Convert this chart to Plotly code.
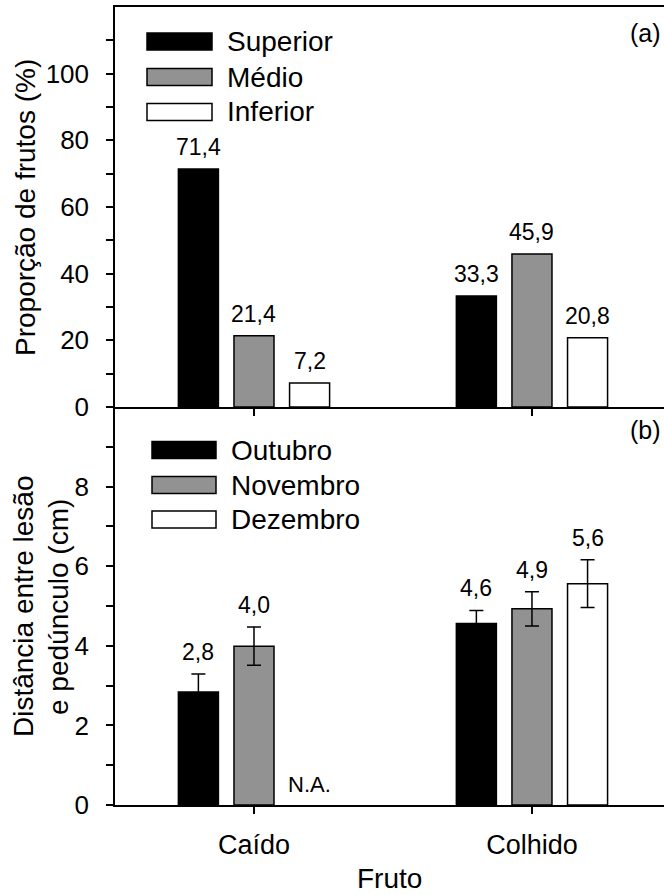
import plotly.graph_objects as go

# ---------------- data ----------------
categories = ["Caído", "Colhido"]

top_names = ["Superior", "Médio", "Inferior"]
superior = [71.4, 33.3]
medio = [21.4, 45.9]
inferior = [7.2, 20.8]

bottom_names = ["Outubro", "Novembro", "Dezembro"]
outubro = [2.84, 4.56]
outubro_err = [0.45, 0.33]
novembro = [3.99, 4.93]
novembro_err = [0.48, 0.43]
dezembro = [None, 5.56]
dezembro_err = [None, 0.60]

top_ticks = [0, 20, 40, 60, 80, 100]
top_minor = [10, 30, 50, 70, 90, 110]
bottom_ticks = [0, 2, 4, 6, 8]
bottom_minor = [1, 3, 5, 7, 9]

# ---------------- style ----------------
FONT = "Liberation Sans, Arial, Helvetica, sans-serif"
fills = ["#000000", "#929292", "#ffffff"]
W, H = 664, 895
L, R, T, B = 115, 0, 7, 90
plot_w = W - L - R
plot_h = H - T - B
split_px = 407  # pixel y of boundary between panels
split = (H - B - split_px) / plot_h

offsets = [-0.2, 0.0, 0.2]
bar_w = 0.144


def px_x(px):
    return (px - L) / plot_w


def px_y(py):
    return (H - B - py) / plot_h


def fmt(v):
    return f"{v:.1f}".replace(".", ",")


fig = go.Figure()
annotations = []
shapes = []

LBL = 23

# top panel bars
top_series = [superior, medio, inferior]
for i, (name, vals) in enumerate(zip(top_names, top_series)):
    xs = [k + offsets[i] for k in range(len(categories))]
    fig.add_trace(go.Bar(
        x=xs, y=vals, width=bar_w, name=name,
        marker=dict(color=fills[i], line=dict(color="black", width=1.5)),
        xaxis="x2", yaxis="y2", showlegend=False,
    ))
    for x, v in zip(xs, vals):
        if v is not None:
            annotations.append(dict(
                x=x, y=v, xref="x2", yref="y2", text=fmt(v), showarrow=False,
                yanchor="bottom", yshift=7, font=dict(size=LBL, color="black", family=FONT)))

# bottom panel bars
bottom_series = [outubro, novembro, dezembro]
bottom_errs = [outubro_err, novembro_err, dezembro_err]
for i, (name, vals, errs) in enumerate(zip(bottom_names, bottom_series, bottom_errs)):
    xs = [k + offsets[i] for k in range(len(categories))]
    fig.add_trace(go.Bar(
        x=xs, y=vals, width=bar_w, name=name,
        marker=dict(color=fills[i], line=dict(color="black", width=1.5)),
        error_y=dict(type="data", array=errs, color="black", thickness=1.5, width=7),
        xaxis="x", yaxis="y", showlegend=False,
    ))
    for x, v, e in zip(xs, vals, errs):
        if v is not None:
            annotations.append(dict(
                x=x, y=v + e, xref="x", yref="y", text=fmt(v), showarrow=False,
                yanchor="bottom", yshift=7, font=dict(size=LBL, color="black", family=FONT)))
        else:
            annotations.append(dict(
                x=x, y=0, xref="x", yref="y", text="N.A.", showarrow=False,
                yanchor="bottom", yshift=6, font=dict(size=22, color="black", family=FONT)))


# custom legends (big swatches)
def legend(names, x0, x1, centers, text_x):
    for i, (name, cy) in enumerate(zip(names, centers)):
        shapes.append(dict(type="rect", xref="paper", yref="paper",
                           x0=px_x(x0), x1=px_x(x1), y0=px_y(cy - 8.5), y1=px_y(cy + 8.5),
                           fillcolor=fills[i], line=dict(color="black", width=1.5)))
        annotations.append(dict(x=px_x(text_x), y=px_y(cy), xref="paper", yref="paper",
                                text=name, showarrow=False, xanchor="left", yanchor="middle",
                                font=dict(size=28, color="black", family=FONT)))


legend(top_names, 147, 212, [41.5, 77, 112], 225)
legend(bottom_names, 152, 216, [450, 485, 519.5], 229)

# panel letters
annotations.append(dict(x=px_x(663), y=px_y(33), xref="paper", yref="paper", text="(a)",
                        showarrow=False, xanchor="right", yanchor="middle",
                        font=dict(size=25, color="black", family=FONT)))
annotations.append(dict(x=px_x(663), y=px_y(430), xref="paper", yref="paper", text="(b)",
                        showarrow=False, xanchor="right", yanchor="middle",
                        font=dict(size=25, color="black", family=FONT)))

# axis titles
TT = 28
annotations.append(dict(x=px_x(26), y=px_y(208), xref="paper", yref="paper",
                        text="Proporção de frutos (%)", textangle=-90, showarrow=False,
                        xanchor="center", yanchor="middle",
                        font=dict(size=TT, color="black", family=FONT)))
annotations.append(dict(x=px_x(23), y=px_y(607), xref="paper", yref="paper",
                        text="Distância entre lesão", textangle=-90,
                        showarrow=False, xanchor="center", yanchor="middle",
                        font=dict(size=TT, color="black", family=FONT)))
annotations.append(dict(x=px_x(58), y=px_y(607), xref="paper", yref="paper",
                        text="e pedúnculo (cm)", textangle=-90,
                        showarrow=False, xanchor="center", yanchor="middle",
                        font=dict(size=TT, color="black", family=FONT)))
annotations.append(dict(x=0.5, y=px_y(878), xref="paper", yref="paper", text="Fruto",
                        showarrow=False, xanchor="center", yanchor="middle",
                        font=dict(size=TT, color="black", family=FONT)))

axis_common = dict(showgrid=False, zeroline=False, showline=True, linecolor="black",
                   linewidth=1.5, ticks="outside", ticklen=7, tickwidth=1.5,
                   tickcolor="black")
xfont = dict(size=27, color="black", family=FONT)
yfont = dict(size=26, color="black", family=FONT)

xr = [-0.5, 1.475]
fig.update_layout(
    width=W, height=H,
    margin=dict(l=L, r=R, t=T, b=B, autoexpand=False),
    paper_bgcolor="white", plot_bgcolor="white",
    barmode="overlay",
    font=dict(family=FONT, color="black"),
    xaxis=dict(domain=[0, 1], anchor="y", range=xr, tickvals=[0, 1], ticktext=categories,
               ticklabelstandoff=8, tickfont=xfont, **axis_common),
    xaxis2=dict(domain=[0, 1], anchor="y2", range=xr, tickvals=[0, 1], showticklabels=False,
                mirror=True, **axis_common),
    yaxis=dict(domain=[0, split], anchor="x", range=[0, 10], tickvals=bottom_ticks,
               ticklabelstandoff=12, tickfont=yfont,
               minor=dict(tickvals=bottom_minor, ticks="outside", ticklen=7, tickwidth=1.5,
                          tickcolor="black"), **axis_common),
    yaxis2=dict(domain=[split, 1], anchor="x2", range=[0, 120], tickvals=top_ticks,
                ticklabelstandoff=12, tickfont=yfont,
                minor=dict(tickvals=top_minor, ticks="outside", ticklen=7, tickwidth=1.5,
                           tickcolor="black"), **axis_common),
    annotations=annotations,
    shapes=shapes,
)

fig.write_html("out.html", config={"displayModeBar": False},
               post_script="document.body.style.margin='0px';document.body.style.overflow='hidden';")
